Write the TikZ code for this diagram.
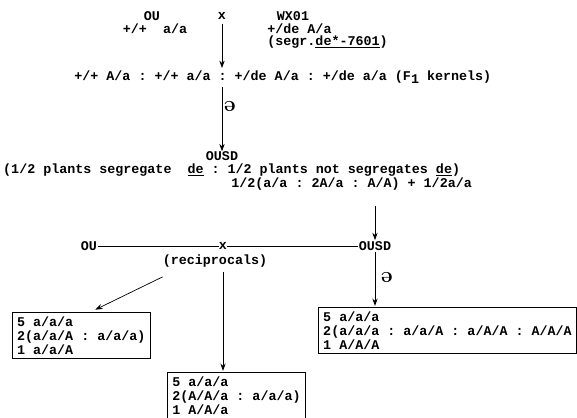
\documentclass[tikz,border=0pt]{standalone}
\usepackage{fontspec}
\setmonofont{Liberation Mono}
\usepackage{tikz}
\usetikzlibrary{arrows.meta,positioning}
\newcommand{\gtfont}{\fontsize{11.4}{12}\selectfont\ttfamily\bfseries}

\begin{document}
\begin{tikzpicture}[
  x=0.03cm, y=-0.03cm,
  every node/.style={font=\gtfont, inner sep=1pt},
  res/.style={draw, line width=0.8pt, align=left, anchor=north west, inner xsep=4pt, inner ysep=3pt, minimum height=1.38cm},
  selfmark/.style={rotate=180, font=\fontsize{19}{19}\selectfont\bfseries, inner sep=0pt},
  arr/.style={-{Stealth[length=2.2mm, width=1.6mm]}, line width=0.6pt}
]
\useasboundingbox (0,0) rectangle (577,418);
% parents
\node (ou1) at (152,16) {OU};
\node (gou1) at (155,29) {+/+~ a/a};
\node (x1) at (222,16) {x};
\node (wx) at (293,16) {WX01};
\node[anchor=west] (gwx) at (266,29) {+/de A/a};
\node[anchor=west] (segr) at (266,42) {(segr.\underline{de*-7601})};
% F1
\node[anchor=west] (f1) at (73,77) {+/+ A/a : +/+ a/a : +/de A/a : +/de a/a (F\raisebox{-0.45ex}{1} kernels)};
\draw[arr] ([yshift=-3pt]x1.south) -- ([yshift=1pt]x1 |- f1.north);
\node[selfmark] (self1) at (230,106) {e};
\node[inner sep=0pt] (ousd1) at (222,156) {OUSD};
\draw[arr] ([yshift=-2pt]x1 |- f1.south) -- (ousd1);
\node[anchor=west, inner sep=0pt] (seg) at (3,170) {(1/2 plants segregate~ \underline{de} : 1/2 plants not segregates \underline{de})};
\node[anchor=west] (ratio) at (230,184) {1/2(a/a : 2A/a : A/A) + 1/2a/a};
% reciprocal crosses
\node (ou2) at (89,246) {OU};
\node[inner sep=0pt] (x2) at (223,246) {x};
\node (ousd2) at (375,246) {OUSD};
\node[inner sep=0pt] (recip) at (215,261) {(reciprocals)};
\draw[arr] ([yshift=-12pt]ousd2 |- ratio.south) -- (ousd2);
\draw[line width=0.6pt] (ou2) -- (x2) -- (ousd2);
\node[selfmark] (self2) at (387,277) {e};
% progeny
\node[res, minimum width=4.08cm] (box1) at (12,312) {5 a/a/a\\2(a/a/A : a/a/a)\\1 a/a/A};
\node[res, minimum width=7.74cm] (box2) at (318,307) {5 a/a/a\\2(a/a/a : a/a/A : a/A/A : A/A/A\\1 A/A/A};
\node[res, minimum width=4.14cm] (box3) at (167,372) {5 a/a/a\\2(A/A/a : a/a/a)\\1 A/A/a};
\draw[arr] ([yshift=-8pt]recip.south west) -- ([xshift=12pt, yshift=2pt]box1.north);
\draw[arr] ([yshift=-4pt]x2 |- recip.south) -- ([yshift=1pt]x2 |- box3.north);
\draw[arr] (ousd2) -- ([yshift=1pt]ousd2 |- box2.north);
\end{tikzpicture}
\end{document}
